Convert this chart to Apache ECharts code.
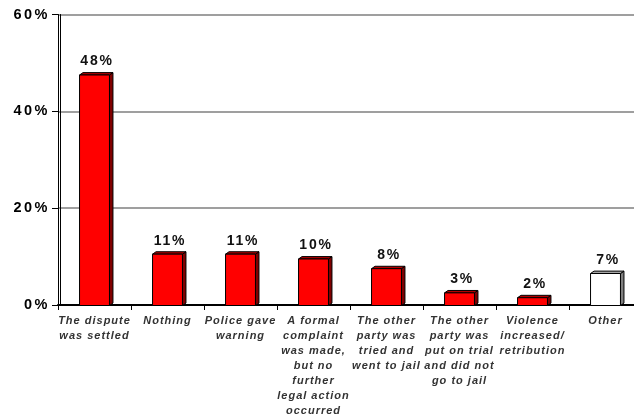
<!DOCTYPE html>
<html>
<head>
<meta charset="utf-8">
<style>
  html, body { margin: 0; padding: 0; background: #fff; overflow: hidden; }
  #chart { width: 642px; height: 418px; }
</style>
<script src="https://cdn.jsdelivr.net/npm/echarts@6/dist/echarts.min.js"></script>
</head>
<body>
<div id="chart"></div>
<script>
// What happened after the dispute (share of respondents)
const categories = [
  'The dispute\nwas settled',
  'Nothing',
  'Police gave\nwarning',
  'A formal\ncomplaint\nwas made,\nbut no\nfurther\nlegal action\noccurred',
  'The other\nparty was\ntried and\nwent to jail',
  'The other\nparty was\nput on trial\nand did not\ngo to jail',
  'Violence\nincreased/\nretribution',
  'Other'
];
const shares = [48, 11, 11, 10, 8, 3, 2, 7];
const yTicks = { min: 0, max: 60, step: 20 };
const plainCategory = 'Other';

// Tracked lettering: looser spacing, set per type size.
(function () {
  const proto = CanvasRenderingContext2D.prototype;
  const desc = Object.getOwnPropertyDescriptor(proto, 'font');
  if (!desc || !('letterSpacing' in proto)) return;
  Object.defineProperty(proto, 'font', {
    configurable: true,
    get() { return desc.get.call(this); },
    set(v) {
      desc.set.call(this, v);
      const m = /(\d+(?:\.\d+)?)px/.exec(v);
      const size = m ? parseFloat(m[1]) : 12;
      this.letterSpacing = size >= 14.5 ? '2.5px' : size >= 14 ? '1.75px' : '1px';
    }
  });
})();

const FONT = "'Liberation Sans', Arial, sans-serif";
const chart = echarts.init(document.getElementById('chart'), null, { renderer: 'canvas' });

// Box-style column: front face, shaded right side and top.
function renderBox(params, api) {
  const idx = api.value(0);
  const val = api.value(1);
  const top = api.coord([idx, val]);
  const base = api.coord([idx, 0]);
  const cw = api.size([1, 0])[0];
  const w = cw * 0.41;
  const dx = 3.5, dy = 2.4;
  const xl = top[0] - w / 2, xr = top[0] + w / 2;
  const ft = top[1] + dy, fb = base[1] + 0.5;
  const plain = categories[idx] === plainCategory;
  const front = plain ? '#ffffff' : '#ff0000';
  const side = plain ? '#808080' : '#800000';
  const cap = plain ? '#a6a6a6' : '#b00000';
  const edge = { stroke: '#000', lineWidth: 1 };
  return {
    type: 'group',
    children: [
      { type: 'polygon', shape: { points: [[xr, ft], [xr + dx, ft - dy], [xr + dx, fb - dy], [xr, fb]] },
        style: Object.assign({ fill: side }, edge) },
      { type: 'polygon', shape: { points: [[xl, ft], [xl + dx, ft - dy], [xr + dx, ft - dy], [xr, ft]] },
        style: Object.assign({ fill: cap }, edge) },
      { type: 'rect', shape: { x: xl, y: ft, width: w, height: fb - ft },
        style: Object.assign({ fill: front }, edge) },
      { type: 'text', x: top[0] + 2.5, y: top[1] - 11,
        style: { text: val + '%', align: 'center', verticalAlign: 'middle',
          font: 'bold 14px ' + FONT, fill: '#111' } }
    ]
  };
}

chart.setOption({
  animation: false,
  backgroundColor: '#ffffff',
  grid: { left: 58, right: 0, top: 14.5, bottom: 112.5, containLabel: false },
  xAxis: {
    type: 'category',
    data: categories,
    boundaryGap: true,
    axisLine: { show: true, lineStyle: { color: '#000', width: 2 } },
    axisTick: { show: true, alignWithLabel: false, length: 5, lineStyle: { color: '#000', width: 1 } },
    axisLabel: {
      interval: 0, margin: 8, fontFamily: FONT, fontSize: 11, fontWeight: 'bold',
      fontStyle: 'italic', lineHeight: 15, color: '#333', align: 'center'
    },
    splitLine: { show: false }
  },
  yAxis: [{
    type: 'value',
    min: yTicks.min, max: yTicks.max, interval: yTicks.step,
    axisLine: { show: true, lineStyle: { color: '#000', width: 1 } },
    axisTick: { show: true, length: 6, lineStyle: { color: '#000' } },
    axisLabel: { formatter: '{value}%', margin: 8, fontFamily: FONT, fontSize: 14.5,
      fontWeight: 'bold', color: '#000' },
    splitLine: { show: true, lineStyle: { color: '#7f7f7f', width: 1.5 } }
  }, {
    // inner edge of the side wall
    type: 'value', position: 'left', offset: -2.5,
    min: yTicks.min, max: yTicks.max, interval: yTicks.step,
    axisLine: { show: true, lineStyle: { color: '#000', width: 1 } },
    axisTick: { show: false }, axisLabel: { show: false }, splitLine: { show: false }
  }],
  series: [{
    type: 'custom',
    renderItem: renderBox,
    encode: { x: 0, y: 1 },
    data: shares.map((v, i) => [i, v]),
    clip: false
  }]
});
</script>
</body>
</html>
